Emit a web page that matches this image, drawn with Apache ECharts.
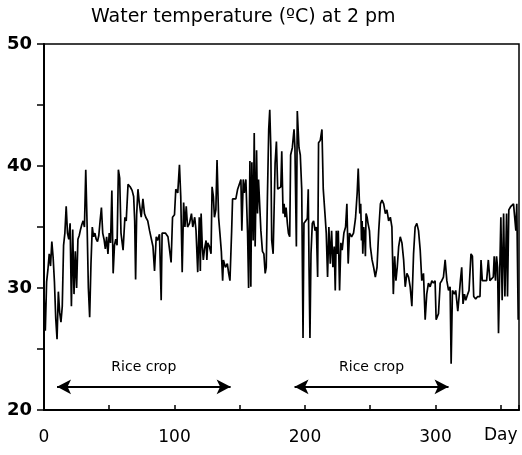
<!DOCTYPE html>
<html>
<head>
<meta charset="utf-8">
<script src="https://cdn.jsdelivr.net/npm/echarts@6/dist/echarts.min.js"></script>
<style>
  html, body { margin: 0; padding: 0; background: #fff; }
  #chart { width: 522px; height: 455px; }
</style>
</head>
<body>
<div id="chart"></div>
<script>
// day of year (x) and water temperature at 2 pm (y)
const days = [
  0,1,2,3,4,5,6,7,8,9, 10,11,12,13,14,15,16,17,18,19,
  20,21,22,23,24,25,26,27,28,29, 30,31,32,33,34,35,36,37,38,39,
  40,41,42,43,44,45,46,47,48,49, 50,51,52,53,54,55,56,57,
  58,59,60.6,62,63,64.4,66,67.5,68.7,69.5, 70.2,71,72,73,74.5,75.8,77,78,79.5,80.9,
  82,83.5,84.7,86,87,88.5,89.8,90.5,91.5,93, 95,96,97.4,98.5,100,101,102.5,103.8,104.8,105.9,
  107,108,109,110,111.5,113,114,115.5,116.5,117.8, 119,
  119.8,120.4,121.3,122.1,123,124.2,124.8,125.5,126.8,128, 128.8,129.8,130.6,131.7,132.6,133.8,134.8,135.9,136.9,137.5,
  139,140.5,141.5,142.5,143.8,144.5,147,148.4,149.6,150.9, 151.6,152.7,153.5,154.7,156,156.8,157.8,158.5,159.3,160.3,
  161.1,161.8,162.9,163.6,164.4,166.2,167.4,168.5,169.5,170.3, 171.2,172.2,173,173.8,174.5,175.6,177.1,178.1,179.1,180.2,
  181.5,182.2,183.2,184,184.7,185.5,186.5,187.3,188.3,189, 190.3,191.6,192.3,193.4,194.1,195.4,196.4,197.5,198.5,199.2,
  200.5,201.8,202.5,203.1,203.8,204.6,205.6,206.6,207.7,208.7, 209.7,210.4,211.7,213,214,215.3,216.3,217.3,218.3,219.4,
  220.4,221.4,222.4,223.2,224,224.7,225.5,226.5,227.5,228.5, 229.8,231.1,232.1,233.1,234.1,235.7,237.2,238.7,240,240.8,
  242,242.7,243.3,243.8,244.3,245,245.8,246.3,246.8,247.6, 248.3,249.4,250.1,251.4,252.6,253.9,255.2,256.5,257.8,259,
  260.3,261.6,262.8,264.1,265.4,266.6,267.7,268.7,269.7,270.7, 271.8,273,274.3,275.6,276.8,278.1,279.4,280.6,281.9,283.2,
  284.4,285.7,287,288.3,289.5,290.8,292.1,293.3,294.6,295.9, 297.2,298.4,299.7,300.5,301.3,
  302.3,303.6,304.8,306.1,307.4,308.7,310,311.2,312,313, 314.5,315.5,317.1,318.1,319.1,320.1,321.1,322.2,323.2,324.7,
  325.7,327.2,328.3,329.3,330.8,332.3,334.1,334.9,335.9,337.4, 339.2,340.5,341.7,343,344.3,345,346,346.8,347.6,348.3,
  349.1,350.1,351.1,352.2,353.2,354.5,355.2,356.2,357.8,358.8, 359.8,360.8,361.6,362.3,363.4
]
const temps = [
  29.5,26.5,30.5,31.5,32.8,31.8,33.8,32.5,30.5,27.5, 25.8,29.7,28,27.2,28.5,33.5,34.5,36.7,34.5,34,
  35.3,28.5,34.8,29.5,33,30,34,34.3,34.8,35.2, 35.5,35,39.7,35.3,30,27.6,32,35,34.2,34.5,
  34,33.8,34.3,35.5,36.6,34.5,34,33.2,34.2,32.8, 34.5,33.7,38,31.2,33.5,34,33.5,39.7,
  39,34.5,33.1,35.8,35.5,38.5,38.3,38,37.5,35.5, 30.7,36,38.1,37,35.8,37.3,36.1,35.8,35.5,34.7,
  34.6,33.4,31.4,34.2,33.9,34.4,29,34.5,34.4,34.5, 34.2,34.2,32.1,35.8,36,38.1,37.8,40.1,37.5,31.3,
  37,35,36.7,35,35.3,36.1,35,35.8,34.7,31.3, 35.8,
  31.4,36.1,33.4,32.3,33.2,33.9,32.3,33.7,33.4,32.8, 38.3,37.5,35.8,36.4,40.5,35.8,34.5,33,30.6,32.3,
  31.7,32,31.2,30.6,34.7,37.3,37.3,38.1,38.2,38.9, 34.7,38.9,37.8,38.9,34.5,30,40.4,30.1,40.3,33.9,
  42.7,33.4,41.3,36.1,38.9,34.7,33,32.8,31.2,31.7, 37.4,43,44.6,41.5,33.9,32.8,40.2,42,38.1,38.1,
  38.3,41.2,36.1,36.9,35.8,36.6,35.3,34.5,34.2,40.9, 41.5,43,41.5,33.4,44.5,41.5,40.9,38.1,25.9,35.3,
  35.5,35.7,38.1,31.7,25.9,32.8,35.3,35.5,34.7,35, 30.9,41.9,42.1,43,38.1,36.1,34.5,30.9,35,32,
  34.7,31.7,33.4,29.8,34.7,32.8,34.7,29.8,33.7,33.1, 34.5,35,36.9,32,34.5,34.2,34.5,35.7,37.8,39.8,
  36.1,36.9,33.9,35.5,32.8,35,34.2,32.6,36.1,35.8, 35.3,34.7,33.4,32.3,31.7,30.9,31.7,34.7,36.9,37.2,
  36.9,36.1,36.4,35.5,35.8,35,29.5,32.6,30.6,31.7, 33.4,34.2,33.7,32.3,30.1,31.2,30.9,30.1,28.5,32.8,
  35,35.3,34.7,33.1,30.6,31.2,27.4,29.5,30.4,30.1, 30.6,30.4,30.6,27.4,27.5,
  27.9,30.4,30.6,30.9,32.3,30.6,29.8,30.1,23.8,29.8, 29.5,29.8,28.1,29.3,30.6,31.7,28.7,29.5,29,29.5,
  29.8,32.8,32.6,29.3,29.1,29.3,29.3,32.3,30.6,30.6, 30.6,32.3,30.6,30.6,30.9,32.6,30.6,32.6,31.7,26.3,
  30.6,35.8,29,36.1,29.3,36.1,29.3,36.4,36.7,36.7, 36.9,36.8,34.7,36.9,27.4
]

const xLabels = [0, 100, 200, 300]
const yLabels = [20, 30, 40, 50]

// rice crop periods (start day, end day) and the level of the arrows
const cropStart = [10, 192]
const cropEnd = [143, 310]
const cropLevel = 21.9
const cropLabel = 'Rice crop'

const font = 'DejaVu Sans'

const renderChart = () => {
  const chart = echarts.init(document.getElementById('chart'), null, { renderer: 'canvas' })

  const points = days.map((d, i) => [d, temps[i]])
  const arrows = cropStart.map((s, i) => [
    { coord: [s, cropLevel] },
    { coord: [cropEnd[i], cropLevel] }
  ])

  const option = {
    animation: false,
    backgroundColor: '#fff',
    title: {
      text: 'Water temperature (ºC) at 2 pm',
      left: 86,
      top: 3,
      textStyle: { fontFamily: font, fontSize: 19, fontWeight: 'normal', color: '#000' }
    },
    grid: {
      left: 44, right: 1, top: 44, bottom: 45,
      show: true,
      borderColor: '#000',
      borderWidth: 1.5
    },
    xAxis: {
      type: 'value',
      min: 0,
      max: 364,
      interval: 50,
      splitLine: { show: false },
      axisLine: { lineStyle: { color: '#000', width: 2 } },
      axisTick: { inside: true, length: 5, lineStyle: { color: '#000', width: 1.5 } },
      axisLabel: {
        margin: 19,
        color: '#000',
        fontFamily: font,
        fontSize: 17,
        formatter: v => xLabels.includes(v) ? String(v) : ''
      }
    },
    yAxis: {
      type: 'value',
      min: 20,
      max: 50,
      interval: 5,
      splitLine: { show: false },
      axisLine: { lineStyle: { color: '#000', width: 2 } },
      axisTick: { inside: false, length: 7, lineStyle: { color: '#000', width: 1.5 } },
      axisLabel: {
        margin: 12,
        color: '#000',
        fontFamily: font,
        fontSize: 18,
        fontWeight: 'bold',
        formatter: v => yLabels.includes(v) ? String(v) : ''
      }
    },
    graphic: [{
      type: 'text',
      left: 484,
      top: 427,
      style: { text: 'Day', fontFamily: font, fontSize: 17, fill: '#000' }
    }],
    series: [{
      type: 'line',
      data: points,
      showSymbol: false,
      symbol: 'none',
      lineStyle: { color: '#000', width: 1.7 },
      silent: true,
      markLine: {
        silent: true,
        symbol: ['arrow', 'arrow'],
        symbolSize: [11, 14],
        lineStyle: { color: '#000', width: 2, type: 'solid' },
        label: {
          show: true,
          position: 'middle',
          distance: 12,
          formatter: cropLabel,
          color: '#000',
          fontFamily: font,
          fontSize: 14
        },
        data: arrows
      }
    }]
  }

  chart.setOption(option)
}

document.addEventListener('DOMContentLoaded', renderChart)
</script>
</body>
</html>
